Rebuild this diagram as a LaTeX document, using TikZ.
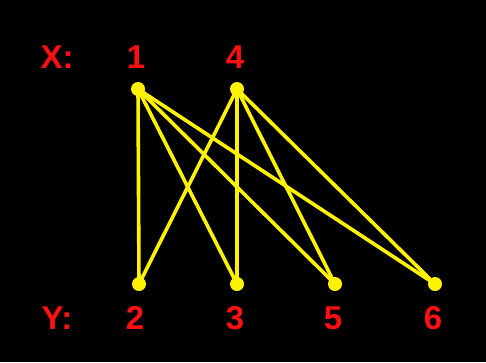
\documentclass[tikz,border=0pt]{standalone}
\usepackage{fontspec}
\setmainfont{Liberation Sans}
\usepackage{xcolor}
\usepackage{tikz}
\usetikzlibrary{positioning}
\definecolor{dotyellow}{HTML}{FFF200}
\definecolor{labelred}{HTML}{FF1010}

\tikzset{
  vert/.style={circle, fill=dotyellow, inner sep=0pt, minimum size=14pt},
  lbl/.style={text=labelred, font=\fontsize{33}{36}\selectfont\bfseries, inner sep=0pt},
  edge/.style={draw=dotyellow, line width=3.6pt}
}

\begin{document}
\begin{tikzpicture}[x=1pt, y=-1pt]
\fill[black] (0,0) rectangle (486,362);
\useasboundingbox (0,0) rectangle (486,362);

% vertices
\node[vert] (x1) at (138,89) {};
\node[vert] (x4) at (237,89) {};
\node[vert] (y2) at (139,284) {};
\node[vert] (y3) at (237,284) {};
\node[vert] (y5) at (335,284) {};
\node[vert] (y6) at (435,284) {};

% labels
\node[lbl] (lx) at (57,57) {X:};
\node[lbl] (l1) at (136,57) {1};
\node[lbl] (l4) at (235,57) {4};
\node[lbl] (ly) at (57,318) {Y:};
\node[lbl] (l2) at (135,318) {2};
\node[lbl] (l3) at (235,318) {3};
\node[lbl] (l5) at (333,318) {5};
\node[lbl] (l6) at (433,318) {6};

% edges
\foreach \a in {x1,x4}
  \foreach \b in {y2,y3,y5,y6}
    \draw[edge] (\a.center) -- (\b.center);
\end{tikzpicture}
\end{document}
